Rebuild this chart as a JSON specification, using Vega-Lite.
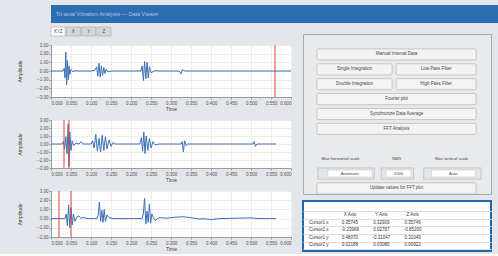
{
  "$schema": "https://vega.github.io/schema/vega-lite/v6.json",
  "background": "#e3e6ea",
  "padding": {"left": 16, "top": 5, "right": 4, "bottom": 2},
  "config": {
    "font": "Liberation Sans",
    "view": {"stroke": null},
    "axis": {"labelFontSize": 4.5, "titleFontSize": 5, "labelColor": "#555", "titleColor": "#444", "titleFontWeight": "normal", "tickSize": 2, "labelPadding": 1, "titlePadding": 2, "domainColor": "#9a9a9a", "tickColor": "#9a9a9a", "gridColor": "#ededed", "labelOverlap": false},
    "axisX": {"labelFlush": true, "grid": true},
    "axisY": {"grid": true, "minExtent": 27, "maxExtent": 27}
  },
  "datasets": {
    "wave": [
      {"p":"A","t":0,"v":0},{"p":"A","t":0.03,"v":0},{"p":"A","t":0.033,"v":0.3},{"p":"A","t":0.035,"v":-0.8},{"p":"A","t":0.037,"v":2.2},{"p":"A","t":0.039,"v":-1.6},{"p":"A","t":0.041,"v":1.2},{"p":"A","t":0.043,"v":-1.0},{"p":"A","t":0.045,"v":0.6},{"p":"A","t":0.047,"v":-0.4},{"p":"A","t":0.05,"v":0.2},{"p":"A","t":0.055,"v":-0.1},{"p":"A","t":0.06,"v":0.05},{"p":"A","t":0.065,"v":0},{"p":"A","t":0.1,"v":0},{"p":"A","t":0.11,"v":0.1},{"p":"A","t":0.114,"v":0.5},{"p":"A","t":0.117,"v":-0.6},{"p":"A","t":0.12,"v":0.9},{"p":"A","t":0.123,"v":-0.7},{"p":"A","t":0.126,"v":0.6},{"p":"A","t":0.129,"v":-0.5},{"p":"A","t":0.132,"v":0.4},{"p":"A","t":0.135,"v":-0.3},{"p":"A","t":0.138,"v":0.2},{"p":"A","t":0.142,"v":-0.1},{"p":"A","t":0.15,"v":0},{"p":"A","t":0.225,"v":0},{"p":"A","t":0.228,"v":0.6},{"p":"A","t":0.231,"v":-1.1},{"p":"A","t":0.234,"v":1.1},{"p":"A","t":0.237,"v":-0.9},{"p":"A","t":0.24,"v":1.0},{"p":"A","t":0.243,"v":-0.8},{"p":"A","t":0.246,"v":0.5},{"p":"A","t":0.25,"v":-0.2},{"p":"A","t":0.26,"v":0.05},{"p":"A","t":0.27,"v":0},{"p":"A","t":0.32,"v":0},{"p":"A","t":0.325,"v":-0.35},{"p":"A","t":0.328,"v":0.15},{"p":"A","t":0.335,"v":0},{"p":"A","t":0.6,"v":0},
      {"p":"B","t":0,"v":0},{"p":"B","t":0.028,"v":0},{"p":"B","t":0.031,"v":0.3},{"p":"B","t":0.034,"v":-0.6},{"p":"B","t":0.037,"v":0.9},{"p":"B","t":0.04,"v":-1.2},{"p":"B","t":0.043,"v":2.5},{"p":"B","t":0.045,"v":-2.8},{"p":"B","t":0.047,"v":1.5},{"p":"B","t":0.05,"v":-0.8},{"p":"B","t":0.053,"v":0.4},{"p":"B","t":0.057,"v":-0.2},{"p":"B","t":0.062,"v":0.1},{"p":"B","t":0.07,"v":0},{"p":"B","t":0.075,"v":0.3},{"p":"B","t":0.08,"v":0},{"p":"B","t":0.1,"v":0},{"p":"B","t":0.104,"v":0.4},{"p":"B","t":0.108,"v":-0.5},{"p":"B","t":0.112,"v":1.2},{"p":"B","t":0.116,"v":-0.9},{"p":"B","t":0.12,"v":0.7},{"p":"B","t":0.124,"v":-1.0},{"p":"B","t":0.128,"v":1.1},{"p":"B","t":0.132,"v":-0.8},{"p":"B","t":0.136,"v":0.9},{"p":"B","t":0.14,"v":-0.6},{"p":"B","t":0.145,"v":0.5},{"p":"B","t":0.15,"v":-0.3},{"p":"B","t":0.155,"v":0.2},{"p":"B","t":0.16,"v":0},{"p":"B","t":0.222,"v":0},{"p":"B","t":0.226,"v":0.8},{"p":"B","t":0.229,"v":-0.9},{"p":"B","t":0.232,"v":1.5},{"p":"B","t":0.235,"v":-1.2},{"p":"B","t":0.238,"v":1.0},{"p":"B","t":0.242,"v":-0.8},{"p":"B","t":0.246,"v":0.7},{"p":"B","t":0.25,"v":-0.5},{"p":"B","t":0.255,"v":0.3},{"p":"B","t":0.26,"v":-0.1},{"p":"B","t":0.27,"v":0},{"p":"B","t":0.325,"v":0},{"p":"B","t":0.328,"v":0.3},{"p":"B","t":0.331,"v":-1.0},{"p":"B","t":0.334,"v":0.4},{"p":"B","t":0.338,"v":-0.2},{"p":"B","t":0.342,"v":0},{"p":"B","t":0.505,"v":0},{"p":"B","t":0.508,"v":0.3},{"p":"B","t":0.511,"v":-0.3},{"p":"B","t":0.515,"v":0},{"p":"B","t":0.5625,"v":0},
      {"p":"C","t":0,"v":0},{"p":"C","t":0.035,"v":0},{"p":"C","t":0.038,"v":0.5},{"p":"C","t":0.041,"v":-0.8},{"p":"C","t":0.044,"v":1.5},{"p":"C","t":0.047,"v":-1.0},{"p":"C","t":0.05,"v":1.2},{"p":"C","t":0.053,"v":-0.7},{"p":"C","t":0.056,"v":0.5},{"p":"C","t":0.06,"v":-0.3},{"p":"C","t":0.065,"v":0.2},{"p":"C","t":0.07,"v":0.3},{"p":"C","t":0.075,"v":0},{"p":"C","t":0.08,"v":0.15},{"p":"C","t":0.09,"v":0},{"p":"C","t":0.115,"v":0},{"p":"C","t":0.118,"v":0.4},{"p":"C","t":0.121,"v":1.8},{"p":"C","t":0.124,"v":-0.3},{"p":"C","t":0.127,"v":0.9},{"p":"C","t":0.13,"v":-0.4},{"p":"C","t":0.133,"v":1.0},{"p":"C","t":0.136,"v":-0.3},{"p":"C","t":0.14,"v":0.4},{"p":"C","t":0.145,"v":0.1},{"p":"C","t":0.155,"v":0},{"p":"C","t":0.228,"v":0},{"p":"C","t":0.231,"v":0.6},{"p":"C","t":0.234,"v":2.2},{"p":"C","t":0.237,"v":-0.6},{"p":"C","t":0.24,"v":0.8},{"p":"C","t":0.243,"v":-0.4},{"p":"C","t":0.246,"v":1.6},{"p":"C","t":0.249,"v":-0.5},{"p":"C","t":0.252,"v":0.5},{"p":"C","t":0.256,"v":0.1},{"p":"C","t":0.26,"v":-0.2},{"p":"C","t":0.27,"v":0.1},{"p":"C","t":0.29,"v":0.05},{"p":"C","t":0.31,"v":0.15},{"p":"C","t":0.33,"v":0.2},{"p":"C","t":0.35,"v":0.1},{"p":"C","t":0.37,"v":-0.05},{"p":"C","t":0.38,"v":0},{"p":"C","t":0.4,"v":-0.1},{"p":"C","t":0.42,"v":0},{"p":"C","t":0.5,"v":0.08},{"p":"C","t":0.52,"v":0},{"p":"C","t":0.5625,"v":0}
    ],
    "cursors": [
      {"p":"A","t":0.56},{"p":"B","t":0.0325},{"p":"B","t":0.045},{"p":"C","t":0.02},{"p":"C","t":0.05}
    ],
    "tabs": [{"tab":"XYZ"},{"tab":"X"},{"tab":"Y"},{"tab":"Z"}],
    "buttons": [
      {"label":"Manual Interval Data","row":"1","col":"full"},
      {"label":"Single Integration","row":"2","col":"left"},
      {"label":"Low Pass Filter","row":"2","col":"right"},
      {"label":"Double Integration","row":"3","col":"left"},
      {"label":"High Pass Filter","row":"3","col":"right"},
      {"label":"Fourier plot","row":"4","col":"full"},
      {"label":"Synchronize Data Average","row":"5","col":"full"},
      {"label":"FFT Analysis","row":"6","col":"full"},
      {"label":"Update values for FFT plot","row":"upd","col":"full"}
    ],
    "inputs": [
      {"item":"h","label":"Max horizontal scale","value":"Automatic"},
      {"item":"n","label":"NMV","value":"1000"},
      {"item":"v","label":"Max vertical scale","value":"Auto"}
    ],
    "table": [
      {"r":"h","c":"X","s":"X Axis"},{"r":"h","c":"Y","s":"Y Axis"},{"r":"h","c":"Z","s":"Z Axis"},
      {"r":"1","c":"L","s":"Cursor1 x"},{"r":"1","c":"X","s":"0.35745"},{"r":"1","c":"Y","s":"0.32909"},{"r":"1","c":"Z","s":"0.35746"},
      {"r":"2","c":"L","s":"Cursor2 x"},{"r":"2","c":"X","s":"-0.23968"},{"r":"2","c":"Y","s":"0.02787"},{"r":"2","c":"Z","s":"-0.85200"},
      {"r":"3","c":"L","s":"Cursor1 y"},{"r":"3","c":"X","s":"0.48070"},{"r":"3","c":"Y","s":"-0.31047"},{"r":"3","c":"Z","s":"0.31049"},
      {"r":"4","c":"L","s":"Cursor2 y"},{"r":"4","c":"X","s":"0.02188"},{"r":"4","c":"Y","s":"0.03080"},{"r":"4","c":"Z","s":"0.00922"}
    ]
  },
  "spacing": 3,
  "vconcat": [
    {
      "width": 472, "height": 18,
      "view": {"fill": "#2b6fb1", "stroke": null},
      "data": {"values": [{"title": "Tri-axial Vibration Analysis — Data Viewer"}]},
      "mark": {"type": "text", "align": "left", "color": "#a9c8ea", "fontSize": 5.5},
      "encoding": {
        "x": {"datum": 0.01, "type": "quantitative", "scale": {"domain": [0, 1]}, "axis": null},
        "text": {"field": "title"}
      }
    },
    {
      "spacing": 8,
      "hconcat": [
        {
          "spacing": 4,
          "vconcat": [
            {
              "width": 60, "height": 9,
              "data": {"name": "tabs"},
              "encoding": {
                "x": {"field": "tab", "type": "nominal", "sort": null, "scale": {"paddingInner": 0.08, "paddingOuter": 0}, "axis": null}
              },
              "layer": [
                {"mark": {"type": "rect", "stroke": "#a5a5a5", "strokeWidth": 0.6},
                 "encoding": {"color": {"condition": {"test": "datum.tab == 'XYZ'", "value": "#ffffff"}, "value": "#d3d7dc"}}},
                {"mark": {"type": "text", "fontSize": 4.5, "color": "#444"}, "encoding": {"text": {"field": "tab"}}}
              ]
            },
            {
              "width": 240, "height": 52,
              "view": {"fill": "#ffffff", "stroke": "#9c9c9c"},
              "encoding": {
                "x": {"field": "t", "type": "quantitative", "scale": {"domain": [0, 0.6], "nice": false}, "axis": {"title": "Time", "format": ".3f", "labelOverlap": false, "values": [0,0.05,0.1,0.15,0.2,0.25,0.3,0.35,0.4,0.45,0.5,0.55,0.6]}}
              },
              "layer": [
                {"data": {"name": "wave"}, "transform": [{"filter": "datum.p == 'A'"}],
                 "mark": {"type": "line", "color": "#3e70b6", "strokeWidth": 1},
                 "encoding": {
                   "y": {"field": "v", "type": "quantitative", "scale": {"domain": [-3, 3], "nice": false}, "axis": {"title": "Amplitude", "format": ".2f", "values": [-3,-2,-1,0,1,2,3]}}
                 }},
                {"data": {"name": "cursors"}, "transform": [{"filter": "datum.p == 'A'"}],
                 "mark": {"type": "rule", "color": "#e0403a", "strokeWidth": 1},
                 "encoding": {}}
              ]
            },
            {
              "width": 240, "height": 48,
              "view": {"fill": "#ffffff", "stroke": "#9c9c9c"},
              "encoding": {
                "x": {"field": "t", "type": "quantitative", "scale": {"domain": [0, 0.6], "nice": false}, "axis": {"title": "Time", "format": ".3f", "labelOverlap": false, "values": [0,0.05,0.1,0.15,0.2,0.25,0.3,0.35,0.4,0.45,0.5,0.55,0.6]}}
              },
              "layer": [
                {"data": {"name": "wave"}, "transform": [{"filter": "datum.p == 'B'"}],
                 "mark": {"type": "line", "color": "#3e70b6", "strokeWidth": 1},
                 "encoding": {
                   "y": {"field": "v", "type": "quantitative", "scale": {"domain": [-3, 3], "nice": false}, "axis": {"title": "Amplitude", "format": ".2f", "values": [-3,-2,-1,0,1,2,3]}}
                 }},
                {"data": {"name": "cursors"}, "transform": [{"filter": "datum.p == 'B'"}],
                 "mark": {"type": "rule", "color": "#e0403a", "strokeWidth": 1},
                 "encoding": {}}
              ]
            },
            {
              "width": 240, "height": 46,
              "view": {"fill": "#ffffff", "stroke": "#9c9c9c"},
              "encoding": {
                "x": {"field": "t", "type": "quantitative", "scale": {"domain": [0, 0.6], "nice": false}, "axis": {"title": "Time", "format": ".3f", "labelOverlap": false, "values": [0,0.05,0.1,0.15,0.2,0.25,0.3,0.35,0.4,0.45,0.5,0.55,0.6]}}
              },
              "layer": [
                {"data": {"name": "wave"}, "transform": [{"filter": "datum.p == 'C'"}],
                 "mark": {"type": "line", "color": "#3e70b6", "strokeWidth": 1},
                 "encoding": {
                   "y": {"field": "v", "type": "quantitative", "scale": {"domain": [-2, 3], "nice": false}, "axis": {"title": "Amplitude", "format": ".2f", "values": [-2,-1,0,1,2,3]}}
                 }},
                {"data": {"name": "cursors"}, "transform": [{"filter": "datum.p == 'C'"}],
                 "mark": {"type": "rule", "color": "#e0403a", "strokeWidth": 1},
                 "encoding": {}}
              ]
            }
          ]
        },
        {
          "spacing": 5,
          "vconcat": [
            {
              "width": 188, "height": 1,
              "data": {"values": [{"s": ""}]},
              "mark": {"type": "rect", "opacity": 0},
              "encoding": {}
            },
            {
              "width": 188, "height": 160,
              "view": {"fill": "#e9eaec", "stroke": "#a9a9a9"},
              "encoding": {
                "y": {"field": "row", "type": "ordinal", "scale": {"domain": ["top","1","2","3","4","5","6","gap","lab","inp","upd"], "paddingInner": 0.25, "paddingOuter": 0}, "axis": null}
              },
              "layer": [
                {
                  "data": {"name": "buttons"},
                  "transform": [{"filter": "datum.col == 'full'"}],
                  "layer": [
                    {"mark": {"type": "rect", "fill": "#f3f3f3", "stroke": "#b3b3b3", "strokeWidth": 0.7, "cornerRadius": 1.5},
                     "encoding": {"x": {"datum": 0.074, "type": "quantitative", "scale": {"domain": [0, 1]}, "axis": null}, "x2": {"datum": 0.921}}},
                    {"mark": {"type": "text", "fontSize": 4.5, "color": "#444"},
                     "encoding": {"x": {"datum": 0.4975, "type": "quantitative", "scale": {"domain": [0, 1]}, "axis": null}, "text": {"field": "label"}}}
                  ]
                },
                {
                  "data": {"name": "buttons"},
                  "transform": [{"filter": "datum.col == 'left'"}],
                  "layer": [
                    {"mark": {"type": "rect", "fill": "#f3f3f3", "stroke": "#b3b3b3", "strokeWidth": 0.7, "cornerRadius": 1.5},
                     "encoding": {"x": {"datum": 0.074, "type": "quantitative", "scale": {"domain": [0, 1]}, "axis": null}, "x2": {"datum": 0.474}}},
                    {"mark": {"type": "text", "fontSize": 4.5, "color": "#444"},
                     "encoding": {"x": {"datum": 0.274, "type": "quantitative", "scale": {"domain": [0, 1]}, "axis": null}, "text": {"field": "label"}}}
                  ]
                },
                {
                  "data": {"name": "buttons"},
                  "transform": [{"filter": "datum.col == 'right'"}],
                  "layer": [
                    {"mark": {"type": "rect", "fill": "#f3f3f3", "stroke": "#b3b3b3", "strokeWidth": 0.7, "cornerRadius": 1.5},
                     "encoding": {"x": {"datum": 0.495, "type": "quantitative", "scale": {"domain": [0, 1]}, "axis": null}, "x2": {"datum": 0.921}}},
                    {"mark": {"type": "text", "fontSize": 4.5, "color": "#444"},
                     "encoding": {"x": {"datum": 0.708, "type": "quantitative", "scale": {"domain": [0, 1]}, "axis": null}, "text": {"field": "label"}}}
                  ]
                },
                {
                  "data": {"name": "inputs"},
                  "transform": [{"filter": "datum.item == 'h'"}],
                  "encoding": {"y": {"datum": "inp", "type": "ordinal"}},
                  "layer": [
                    {"mark": {"type": "rect", "fill": "#e4e5e7", "stroke": "#b0b0b0", "strokeWidth": 0.6},
                     "encoding": {"x": {"datum": 0.079, "type": "quantitative", "scale": {"domain": [0, 1]}, "axis": null}, "x2": {"datum": 0.379}}},
                    {"mark": {"type": "bar", "fill": "#ffffff", "stroke": "#c4c4c4", "strokeWidth": 0.5, "height": {"band": 0.62}},
                     "encoding": {"x": {"datum": 0.132, "type": "quantitative", "scale": {"domain": [0, 1]}, "axis": null}, "x2": {"datum": 0.368}}},
                    {"mark": {"type": "text", "fontSize": 4.2, "color": "#444"},
                     "encoding": {"x": {"datum": 0.25, "type": "quantitative", "scale": {"domain": [0, 1]}, "axis": null}, "text": {"field": "value"}}},
                    {"mark": {"type": "text", "fontSize": 4.2, "color": "#444"},
                     "encoding": {"x": {"datum": 0.2, "type": "quantitative", "scale": {"domain": [0, 1]}, "axis": null}, "y": {"datum": "lab", "type": "ordinal"}, "text": {"field": "label"}}}
                  ]
                },
                {
                  "data": {"name": "inputs"},
                  "transform": [{"filter": "datum.item == 'n'"}],
                  "encoding": {"y": {"datum": "inp", "type": "ordinal"}},
                  "layer": [
                    {"mark": {"type": "rect", "fill": "#e4e5e7", "stroke": "#b0b0b0", "strokeWidth": 0.6},
                     "encoding": {"x": {"datum": 0.416, "type": "quantitative", "scale": {"domain": [0, 1]}, "axis": null}, "x2": {"datum": 0.589}}},
                    {"mark": {"type": "bar", "fill": "#ffffff", "stroke": "#c4c4c4", "strokeWidth": 0.5, "height": {"band": 0.62}},
                     "encoding": {"x": {"datum": 0.442, "type": "quantitative", "scale": {"domain": [0, 1]}, "axis": null}, "x2": {"datum": 0.574}}},
                    {"mark": {"type": "text", "fontSize": 4.2, "color": "#444"},
                     "encoding": {"x": {"datum": 0.508, "type": "quantitative", "scale": {"domain": [0, 1]}, "axis": null}, "text": {"field": "value"}}},
                    {"mark": {"type": "text", "fontSize": 4.2, "color": "#444"},
                     "encoding": {"x": {"datum": 0.5, "type": "quantitative", "scale": {"domain": [0, 1]}, "axis": null}, "y": {"datum": "lab", "type": "ordinal"}, "text": {"field": "label"}}}
                  ]
                },
                {
                  "data": {"name": "inputs"},
                  "transform": [{"filter": "datum.item == 'v'"}],
                  "encoding": {"y": {"datum": "inp", "type": "ordinal"}},
                  "layer": [
                    {"mark": {"type": "rect", "fill": "#e4e5e7", "stroke": "#b0b0b0", "strokeWidth": 0.6},
                     "encoding": {"x": {"datum": 0.642, "type": "quantitative", "scale": {"domain": [0, 1]}, "axis": null}, "x2": {"datum": 0.947}}},
                    {"mark": {"type": "bar", "fill": "#ffffff", "stroke": "#c4c4c4", "strokeWidth": 0.5, "height": {"band": 0.62}},
                     "encoding": {"x": {"datum": 0.684, "type": "quantitative", "scale": {"domain": [0, 1]}, "axis": null}, "x2": {"datum": 0.916}}},
                    {"mark": {"type": "text", "fontSize": 4.2, "color": "#444"},
                     "encoding": {"x": {"datum": 0.8, "type": "quantitative", "scale": {"domain": [0, 1]}, "axis": null}, "text": {"field": "value"}}},
                    {"mark": {"type": "text", "fontSize": 4.2, "color": "#444"},
                     "encoding": {"x": {"datum": 0.79, "type": "quantitative", "scale": {"domain": [0, 1]}, "axis": null}, "y": {"datum": "lab", "type": "ordinal"}, "text": {"field": "label"}}}
                  ]
                }
              ]
            },
            {
              "width": 188, "height": 50,
              "view": {"fill": "#ffffff", "stroke": "#2467ad", "strokeWidth": 2},
              "data": {"name": "table"},
              "mark": {"type": "text", "fontSize": 4.5, "color": "#333"},
              "encoding": {
                "x": {"field": "c", "type": "nominal", "scale": {"domain": ["L","X","Y","Z","e1","e2"], "paddingInner": 0, "paddingOuter": 0}, "axis": null},
                "y": {"field": "r", "type": "nominal", "scale": {"domain": ["h","1","2","3","4"], "paddingInner": 0, "paddingOuter": 0.8, "align": 0.85}, "axis": {"grid": true, "tickBand": "extent", "labels": false, "ticks": false, "domain": false, "title": null, "gridColor": "#dedede", "minExtent": 0, "maxExtent": 0}},
                "text": {"field": "s"}
              }
            }
          ]
        }
      ]
    }
  ]
}
